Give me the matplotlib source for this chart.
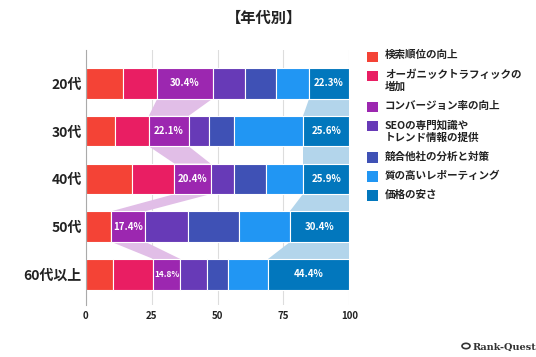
import numpy as np
import matplotlib
matplotlib.use("Agg")
import matplotlib.pyplot as plt
from matplotlib.patches import Polygon, Rectangle, Circle

plt.rcParams['font.family'] = ['Noto Sans CJK JP', 'DejaVu Sans']

# ---- data (raw % of respondents; bars are normalised to 100) ----
ages = ["20代", "30代", "40代", "50代", "60代以上"]
series = ["検索順位の向上", "オーガニックトラフィックの\n増加", "コンバージョン率の向上",
          "SEOの専門知識や\nトレンド情報の提供", "競合他社の分析と対策",
          "質の高いレポーティング", "価格の安さ"]
rank_up     = [20.5, 16.2, 26.0, 13.0, 14.8]
organic     = [18.8, 18.8, 24.0,  0.0, 22.2]
conversion  = [30.4, 22.1, 20.4, 17.4, 14.8]
seo_expert  = [17.9, 11.3, 13.1, 21.7, 14.8]
competitor  = [17.0, 13.9, 18.3, 26.1, 11.1]
reporting   = [17.9, 38.3, 21.0, 26.1, 22.2]
price       = [22.3, 25.6, 25.9, 30.4, 44.4]
xticks = [0, 25, 50, 75, 100]

colors = ["#F44336", "#E91E63", "#9C27B0", "#673AB7", "#3F51B5", "#2196F3", "#0277BD"]
highlight = {2: "#E1BEE7", 6: "#B3D5EB"}

raw = np.array([rank_up, organic, conversion, seo_expert, competitor, reporting, price])
norm = raw / raw.sum(axis=0) * 100
lefts = np.vstack([np.zeros(len(ages)), np.cumsum(norm, axis=0)[:-1]])

fig = plt.figure(figsize=(5.36, 3.57), dpi=100)
ax = fig.add_axes([0.160, 0.1457, 0.4918, 0.714])
y = np.arange(len(ages))
h = 0.64

# connecting bands for highlighted series
for s, bc in highlight.items():
    for i in range(len(ages) - 1):
        l0, r0 = lefts[s, i], lefts[s, i] + norm[s, i]
        l1, r1 = lefts[s, i + 1], lefts[s, i + 1] + norm[s, i + 1]
        poly = Polygon([(l0, i + h / 2), (r0, i + h / 2), (r1, i + 1 - h / 2), (l1, i + 1 - h / 2)],
                       closed=True, facecolor=bc, edgecolor='none', zorder=1)
        ax.add_patch(poly)

for s in range(len(series)):
    ax.barh(y, norm[s], left=lefts[s], height=h, color=colors[s],
            edgecolor='white', linewidth=0.8, zorder=2)

# value labels on highlighted series
for s in highlight:
    for i in range(len(ages)):
        cx = lefts[s, i] + norm[s, i] / 2
        fs = 7 if norm[s, i] > 11 else 6
        ax.text(cx, i, f"{raw[s, i]:.1f}%", color='white', fontsize=fs,
                fontweight='bold', ha='center', va='center', zorder=3)

ax.set_xlim(0, 100)
ax.set_ylim(4.643, -0.697)
ax.set_yticks(y)
ax.set_yticklabels(ages, fontsize=10, fontweight='bold', color='#222222')
ax.set_xticks(xticks)
ax.set_xticklabels([str(t) for t in xticks], fontsize=7, fontweight='bold', color='#222222')
ax.tick_params(length=0, pad=3)
ax.tick_params(axis='x', pad=4.5)
ax.xaxis.grid(True, color='#dddddd', linewidth=0.8, zorder=0)
ax.set_axisbelow(True)
for sp in ['top', 'right', 'bottom']:
    ax.spines[sp].set_visible(False)
ax.spines['left'].set_color('#aaaaaa')
ax.spines['left'].set_linewidth(0.8)

fig.text(264 / 536, 1 - 17.5 / 357, "【年代別】", fontsize=11, fontweight='bold',
         ha='center', va='center', color='#222222')

# legend (manual)
W, H = 536, 357
ycur = 56.7
for s, lab in enumerate(series):
    sq = 10.4
    fig.patches.append(Rectangle(((372.5 - sq / 2) / W, 1 - (ycur + sq / 2) / H), sq / W, sq / H,
                                 transform=fig.transFigure, facecolor=colors[s], edgecolor='none'))
    fig.text(385 / W, 1 - (ycur - 6.5) / H, lab, fontsize=7.6, fontweight='bold',
             ha='left', va='top', linespacing=1.25, color='#222222')
    ycur += 19 + 12.5 * lab.count("\n")

# watermark
fig.patches.append(Circle((466 / W, 1 - 346 / H), 4 / W, transform=fig.transFigure,
                          facecolor='none', edgecolor='#333333', linewidth=1.2))
fig.text(473 / W, 1 - 347 / H, "Rank-Quest", fontsize=7, fontweight='bold',
         family='DejaVu Serif', ha='left', va='center', color='#333333')

fig.savefig("out.png", dpi=100)
